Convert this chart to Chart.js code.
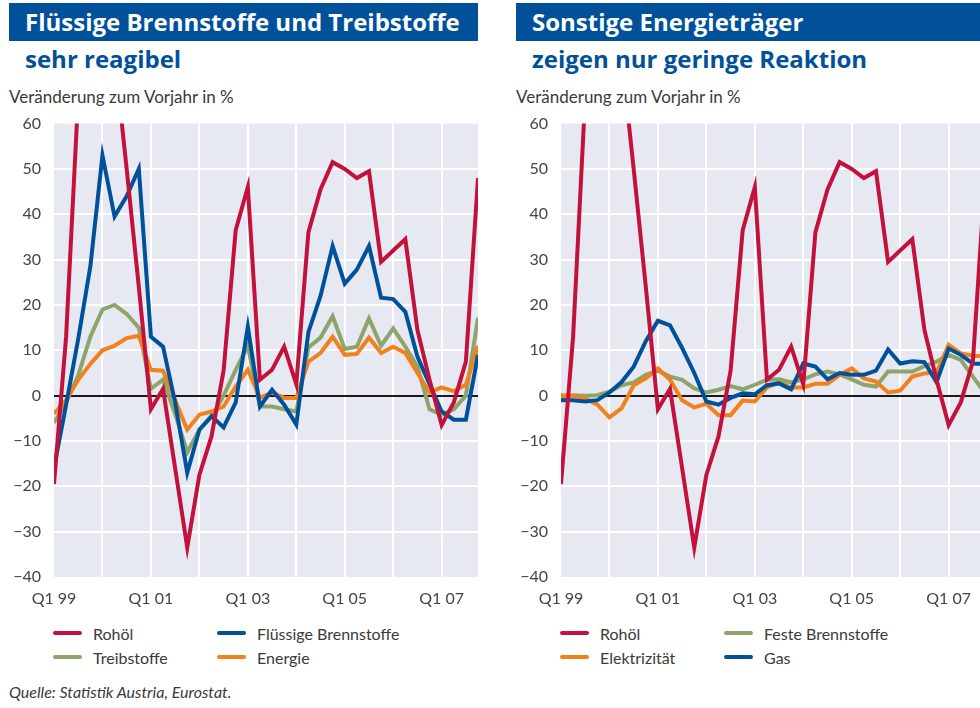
<!DOCTYPE html>
<html lang="de">
<head>
<meta charset="utf-8">
<script src="https://cdn.jsdelivr.net/npm/chart.js@4.4.1/dist/chart.umd.min.js"></script>
<style>
  html, body { margin: 0; padding: 0; background: #fff; width: 980px; height: 708px; overflow: hidden; font-family: Lato, "Open Sans", sans-serif; color: #3a3a3a; }
  .titlebar { position: absolute; top: 3px; height: 38px; background: #00519A; color: #fff; font-family: "Open Sans", Lato, sans-serif; font-weight: 700; font-size: 24px; line-height: 37px; padding-left: 16px; box-sizing: border-box; white-space: nowrap; }
  .subtitle { position: absolute; top: 42px; color: #00519A; font-family: "Open Sans", Lato, sans-serif; font-weight: 700; font-size: 24px; white-space: nowrap; }
  .unit { position: absolute; top: 86px; font-size: 17px; white-space: nowrap; }
  .chartbox { position: absolute; top: 101px; width: 490px; height: 511px; }
  .legend { position: absolute; top: 622px; display: grid; grid-template-columns: 164px auto; row-gap: 2px; font-size: 16px; }
  .legend div { display: flex; align-items: center; height: 22px; white-space: nowrap; }
  .legend span.sw { display: inline-block; width: 29px; height: 4px; border-radius: 2px; margin-right: 11px; }
  .source { position: absolute; left: 9px; top: 682px; font-size: 16px; font-style: italic; }
</style>
</head>
<body>

<div class="titlebar" style="left:9px; width:469px;">Flüssige Brennstoffe und Treibstoffe</div>
<div class="subtitle" style="left:25px;">sehr reagibel</div>
<div class="unit" style="left:9px;">Veränderung zum Vorjahr in %</div>
<div class="chartbox" style="left:0px;"><canvas id="chart-left"></canvas></div>
<div class="legend" id="legend-left" style="left:53px;"></div>

<div class="titlebar" style="left:516px; width:470px;">Sonstige Energieträger</div>
<div class="subtitle" style="left:532px;">zeigen nur geringe Reaktion</div>
<div class="unit" style="left:516px;">Veränderung zum Vorjahr in %</div>
<div class="chartbox" style="left:507px;"><canvas id="chart-right"></canvas></div>
<div class="legend" id="legend-right" style="left:560px;"></div>

<div class="source">Quelle: Statistik Austria, Eurostat.</div>

<script>
// Quartale Q1 1999 bis Q4 2007
const quarters = [
    "Q1 99", "Q2 99", "Q3 99", "Q4 99", "Q1 00", "Q2 00", "Q3 00", "Q4 00",
    "Q1 01", "Q2 01", "Q3 01", "Q4 01", "Q1 02", "Q2 02", "Q3 02", "Q4 02",
    "Q1 03", "Q2 03", "Q3 03", "Q4 03", "Q1 04", "Q2 04", "Q3 04", "Q4 04",
    "Q1 05", "Q2 05", "Q3 05", "Q4 05", "Q1 06", "Q2 06", "Q3 06", "Q4 06",
    "Q1 07", "Q2 07", "Q3 07", "Q4 07"
];
const shownTicks = ["Q1 99", "Q1 01", "Q1 03", "Q1 05", "Q1 07"];
const yTicks = [-40, -30, -20, -10, 0, 10, 20, 30, 40, 50, 60];

// Veränderung zum Vorjahr in %
const rohoel = [-19.5, 13, 66, 80, 85, 75, 50, 24, -3, 1.5, -16, -33.5, -17.5, -9, 5.5, 36.5, 46, 3.5, 5.7, 10.8, 2.5, 36, 45.5, 51.5, 50, 48, 49.5, 29.5, 32, 34.5, 14.5, 3.5, -6.5, -1.5, 7.5, 48];
const fluessigeBrennstoffe = [-16, -2, 12.5, 28.5, 53, 39.5, 44, 50, 13, 10.8, -1.5, -17, -7.5, -4.5, -7, -1.5, 15.2, -2.4, 1.3, -2, -6.4, 14, 22, 33, 24.7, 27.8, 33, 21.6, 21.3, 18.5, 8.6, 2.5, -3.5, -5.3, -5.3, 9];
const treibstoffe = [-6, -1.5, 4.5, 13, 19, 20, 18, 15, 1.5, 3.5, -4, -12.5, -7.5, -4.8, 0, 5.7, 11, -2.4, -2.4, -3, -3.5, 10.6, 12.8, 17.5, 10.3, 10.8, 17, 11, 14.8, 10.8, 6.4, -3, -4.2, -3, 0, 17.2];
const energie = [-4, -1, 3.5, 7, 10, 11, 12.7, 13.2, 5.7, 5.5, -1, -7.5, -4.2, -3.5, -2.4, 2, 5.7, -0.5, 0.7, -0.5, -0.5, 7.5, 9.4, 13, 9, 9.2, 12.8, 9.4, 10.8, 9.4, 5, 0.7, 1.8, 1, 2.4, 11];

const festeBrennstoffe = [-0.7, 0.1, 0, 0.1, 0.9, 2.3, 2.9, 4.6, 5.5, 4.2, 3.5, 1.6, 0.7, 1.3, 2.1, 1.4, 2.4, 3.5, 3.6, 2.9, 3.6, 4.7, 5.3, 4.7, 3.6, 2.4, 2, 5.3, 5.3, 5.3, 6.5, 7.5, 9, 7.9, 4.2, 0.5];
const elektrizitaet = [0.1, 0, -0.6, -2, -4.8, -2.8, 2.3, 3.8, 6, 3.5, -1, -2.6, -1.8, -4.3, -4.3, -1.1, -1.3, 1.8, 2.9, 1.8, 1.8, 2.6, 2.6, 4.6, 6, 3.8, 3.1, 0.7, 1.1, 4.2, 4.9, 5.1, 11.2, 9.3, 8.8, 8.7];
const gas = [-1, -1, -1.3, -1, 0.7, 3, 6.4, 12, 16.5, 15.5, 10.5, 5, -1.3, -2, -0.5, 0.5, 0.3, 2.3, 2.7, 1.4, 7.1, 6.4, 3.6, 5, 4.6, 4.6, 5.5, 10.2, 7.1, 7.6, 7.4, 3, 10.4, 9, 7.1, 7];

const RED = "#C3113B";
const BLUE = "#00519A";
const GREEN = "#8DA56A";
const ORANGE = "#F2801B";

// Hintergrund der Zeichenfläche
const plotBg = {
    id: "plotBg",
    beforeDraw(chart) {
        const a = chart.chartArea;
        const ctx = chart.ctx;
        ctx.save();
        ctx.fillStyle = "#E6E8F2";
        ctx.fillRect(a.left, a.top, a.right - a.left, a.bottom - a.top);
        ctx.restore();
    }
};

function line(label, data, color, order) {
    return {
        label: label, data: data, borderColor: color, backgroundColor: color,
        borderWidth: 4, pointRadius: 0, tension: 0, clip: 0, order: order,
        borderJoinStyle: "miter"
    };
}

function renderPanel(id, datasets) {
    const ctx = document.getElementById(id).getContext("2d");
    return new Chart(ctx, {
        type: "line",
        data: { labels: quarters, datasets: datasets },
        options: {
            responsive: true,
            maintainAspectRatio: false,
            animation: false,
            layout: { padding: { top: 0, right: 11, bottom: 0, left: 0 } },
            plugins: { legend: { display: false }, tooltip: { enabled: false } },
            scales: {
                x: {
                    offset: false,
                    border: { display: false },
                    grid: {
                        drawTicks: false,
                        lineWidth: 2,
                        color: c => (c.index % 4 === 0 && c.index > 0) ? "#ffffff" : "rgba(0,0,0,0)"
                    },
                    ticks: {
                        autoSkip: false, maxRotation: 0, padding: 12,
                        color: "#444", font: { family: "Lato", size: 16 },
                        callback: function (v, i) {
                            const q = quarters[i];
                            return shownTicks.includes(q) ? q : "";
                        }
                    },
                    afterFit: s => { s.height = 35; }
                },
                y: {
                    min: yTicks[0], max: yTicks[yTicks.length - 1],
                    border: { display: false },
                    afterBuildTicks: s => { s.ticks = yTicks.map(v => ({ value: v })); },
                    grid: {
                        drawTicks: false,
                        lineWidth: 2,
                        color: c => c.tick.value === 0 ? "#1a1a1a" : ((c.tick.value === 60 || c.tick.value === -40) ? "rgba(0,0,0,0)" : "#ffffff")
                    },
                    ticks: {
                        padding: 13, color: "#444", font: { family: "Lato", size: 16 },
                        callback: v => String(v).replace("-", "\u2212")
                    },
                    afterFit: s => { s.width = 54; }
                }
            }
        },
        plugins: [plotBg]
    });
}

function renderLegend(id, items) {
    const box = document.getElementById(id);
    items.forEach(it => {
        const d = document.createElement("div");
        d.innerHTML = '<span class="sw" style="background:' + it[1] + '"></span>' + it[0];
        box.appendChild(d);
    });
}

renderPanel("chart-left", [
    line("Rohöl", rohoel, RED, 0),
    line("Flüssige Brennstoffe", fluessigeBrennstoffe, BLUE, 1),
    line("Treibstoffe", treibstoffe, GREEN, 3),
    line("Energie", energie, ORANGE, 2)
]);
renderLegend("legend-left", [
    ["Rohöl", RED], ["Flüssige Brennstoffe", BLUE],
    ["Treibstoffe", GREEN], ["Energie", ORANGE]
]);

renderPanel("chart-right", [
    line("Rohöl", rohoel, RED, 0),
    line("Feste Brennstoffe", festeBrennstoffe, GREEN, 3),
    line("Elektrizität", elektrizitaet, ORANGE, 2),
    line("Gas", gas, BLUE, 1)
]);
renderLegend("legend-right", [
    ["Rohöl", RED], ["Feste Brennstoffe", GREEN],
    ["Elektrizität", ORANGE], ["Gas", BLUE]
]);
</script>
</body>
</html>
